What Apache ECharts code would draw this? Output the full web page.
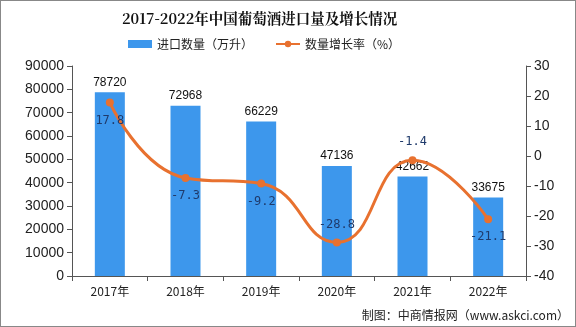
<!DOCTYPE html>
<html><head><meta charset="utf-8">
<script src="https://cdn.jsdelivr.net/npm/echarts@6/dist/echarts.min.js"></script>
<style>html,body{margin:0;padding:0;background:#fff}#c{width:576px;height:327px;box-sizing:border-box;border:1px solid #888}</style>
</head><body><div id="c"></div>
<script>
const categories = ['2017年','2018年','2019年','2020年','2021年','2022年'];
const importVolume = [78720, 72968, 66229, 47136, 42662, 33675];
const growthRate = [17.8, -7.3, -9.2, -28.8, -1.4, -21.1];
const growthLabelPos = ['bottom','bottom','bottom','top','top','bottom'];

const chart = echarts.init(document.getElementById('c'));
chart.setOption({
  animation: false,
  title: {
    text: '2017-2022年中国葡萄酒进口量及增长情况',
    left: 116, top: 5,
    textStyle: {fontFamily: 'Noto Serif CJK SC, Noto Sans CJK SC, serif', fontWeight: 'bold', fontSize: 14.5, color: '#111'}
  },
  legend: {
    top: 32, left: 122, itemGap: 22, itemWidth: 24, itemHeight: 8,
    textStyle: {fontFamily: 'Noto Sans CJK SC', fontSize: 12, color: '#222'},
    data: [{name: '进口数量（万升）', icon: 'rect'}, {name: '数量增长率（%）'}]
  },
  graphic: [{
    type: 'text', right: 6, bottom: 5,
    style: {text: '制图：中商情报网（www.askci.com）', font: '12px Noto Sans CJK SC', fill: '#222'}
  }],
  grid: {left: 71, right: 49, top: 65, bottom: 50},
  xAxis: {
    type: 'category', data: categories,
    axisLine: {lineStyle: {color: '#555'}},
    axisTick: {show: true, alignWithLabel: false, lineStyle: {color: '#555'}},
    axisLabel: {color: '#222', fontSize: 12, fontFamily: 'Noto Sans CJK SC', margin: 9}
  },
  yAxis: [{
    type: 'value', min: 0, max: 90000, interval: 10000,
    axisLine: {show: true, lineStyle: {color: '#555'}},
    axisTick: {show: true, lineStyle: {color: '#555'}},
    splitLine: {show: false},
    axisLabel: {color: '#222', fontSize: 14, fontFamily: 'Liberation Sans', formatter: v => String(v)}
  }, {
    type: 'value', min: -40, max: 30, interval: 10,
    axisLine: {show: true, lineStyle: {color: '#555'}},
    axisTick: {show: true, lineStyle: {color: '#555'}},
    splitLine: {show: false},
    axisLabel: {color: '#222', fontSize: 14, fontFamily: 'Liberation Sans', formatter: v => String(v)}
  }],
  series: [{
    name: '进口数量（万升）', type: 'bar', data: importVolume, barWidth: 30,
    itemStyle: {color: '#3D97EC'},
    label: {show: true, position: 'top', color: '#111', fontSize: 12, fontFamily: 'Liberation Sans', distance: 4}
  }, {
    name: '数量增长率（%）', type: 'line', yAxisIndex: 1, smooth: 0.5,
    data: growthRate.map((v, i) => ({value: v, label: {position: growthLabelPos[i]}})),
    symbol: 'circle', symbolSize: 8,
    lineStyle: {color: '#E8712F', width: 3},
    itemStyle: {color: '#E8712F'},
    label: {show: true, color: '#1F3A6B', fontSize: 12, fontFamily: 'DejaVu Sans Mono', distance: 8}
  }]
});
</script></body></html>
